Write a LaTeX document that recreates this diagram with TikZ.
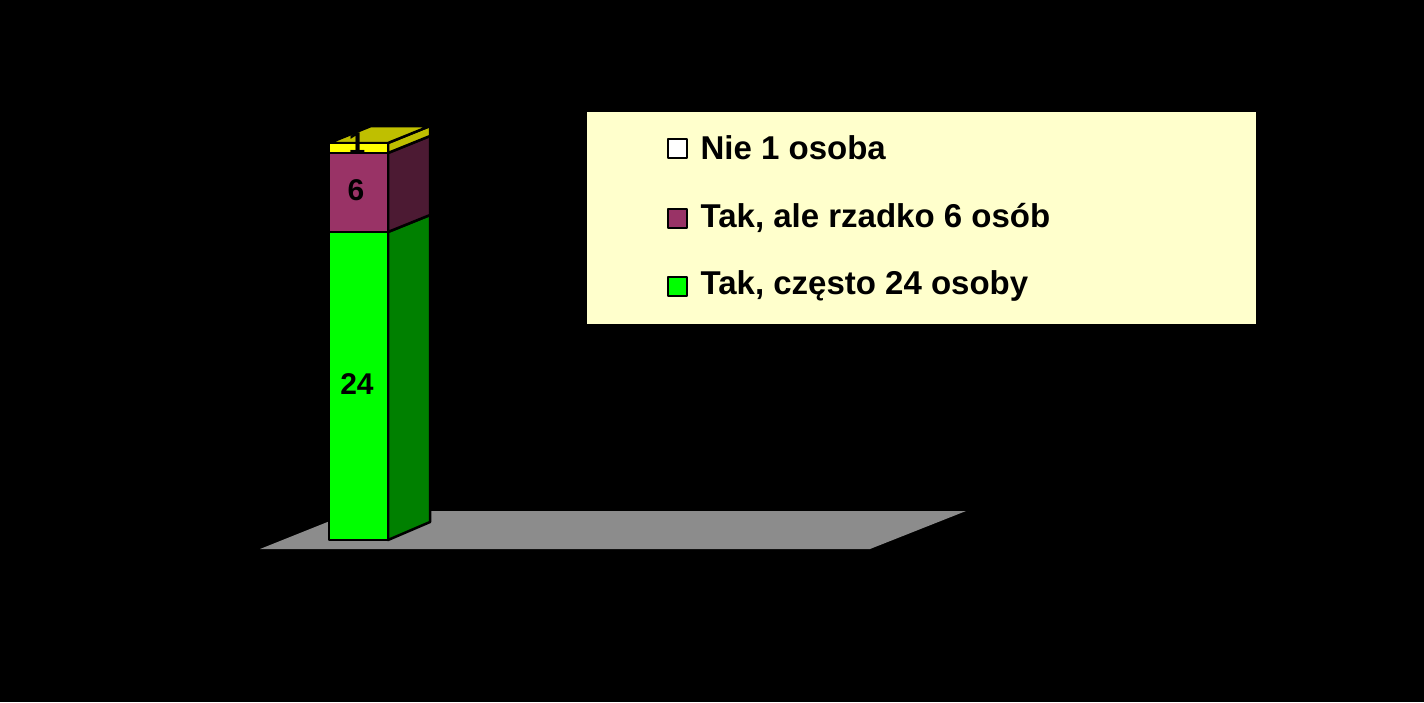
\documentclass[tikz,border=0pt]{standalone}
\usepackage{fontspec}
\setmainfont{Liberation Sans}
\begin{document}
\begin{tikzpicture}[x=1pt,y=-1pt,line width=2.5pt,line join=round,
  lbl/.style={font=\bfseries\fontsize{30}{30}\selectfont},
  leg/.style={font=\bfseries\fontsize{33}{33}\selectfont,anchor=west},
  sq/.style={draw,line width=2pt,minimum size=19pt,inner sep=0pt}]
\definecolor{gr}{HTML}{00FF00}\definecolor{grs}{HTML}{008000}
\definecolor{pu}{HTML}{993366}\definecolor{pus}{HTML}{4C1A33}
\definecolor{ye}{HTML}{FFFF00}\definecolor{yes}{HTML}{BFBF00}
\definecolor{lg}{HTML}{FFFFCC}
\fill[black] (0,0) rectangle (1424,702);
\useasboundingbox (0,0) rectangle (1424,702);
\fill[gray!90] (260,549) -- (870,549) -- (966,511) -- (355,511) -- cycle;
% bar
\filldraw[fill=grs] (388,232) -- (430,215) -- (430,522) -- (388,540) -- cycle;
\filldraw[fill=pus] (388,153) -- (430,136) -- (430,215) -- (388,232) -- cycle;
\filldraw[fill=yes] (388,143) -- (430,126) -- (430,136) -- (388,153) -- cycle;
\filldraw[fill=yes] (329,143) -- (371,126) -- (430,126) -- (388,143) -- cycle;
\filldraw[fill=gr] (329,232) rectangle (388,540);
\filldraw[fill=pu] (329,153) rectangle (388,232);
\filldraw[fill=ye] (329,143) rectangle (388,153);
\node[lbl] (l1) at (357,143) {1};
\node[lbl] (l6) at (356,190) {6};
\node[lbl] (l24) at (357,384) {24};
% legend
\fill[lg] (587,112) rectangle (1256,324);
\node[sq,fill=white] (s1) at (677,148) {};
\node[sq,fill=pu] (s2) at (677,218) {};
\node[sq,fill=gr] (s3) at (677,286) {};
\node[leg] (t1) at (696,148) {Nie 1 osoba};
\node[leg] (t2) at (696,218) {Tak, ale rzadko 6 osób};
\node[leg] (t3) at (696,286) {Tak, często 24 osoby};
\end{tikzpicture}
\end{document}
